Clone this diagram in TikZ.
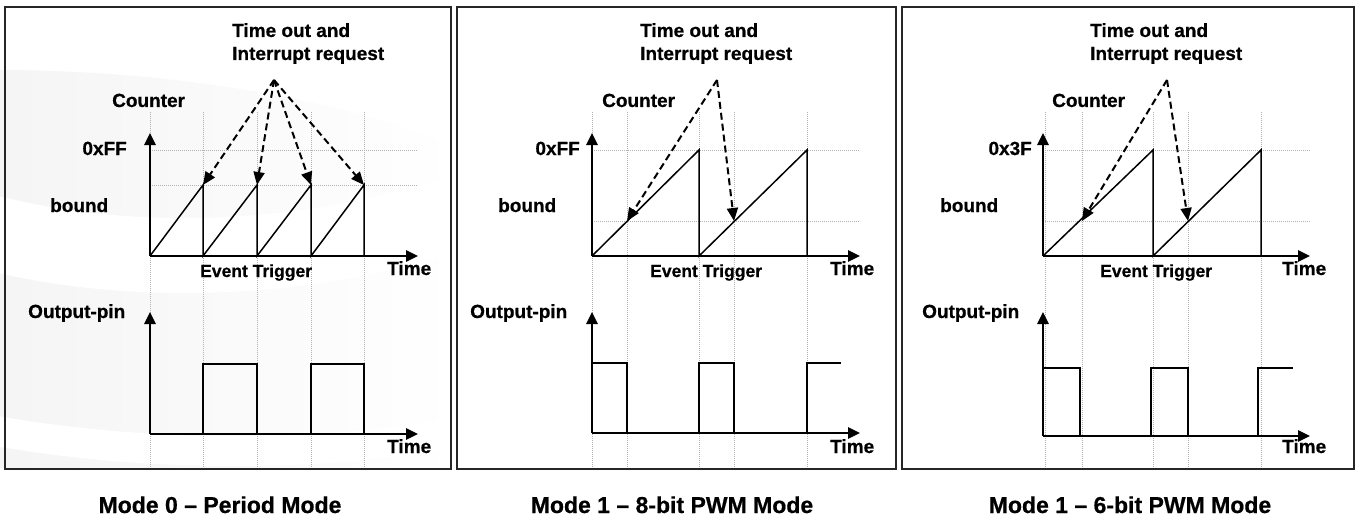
\documentclass[tikz,border=0pt]{standalone}
\usepackage{fontspec}
\setmainfont{Liberation Sans}[BoldFeatures={FakeBold=0.6}]
\usetikzlibrary{arrows.meta,positioning,calc}

\begin{document}
\begin{tikzpicture}[x=1pt,y=-1pt,>={Triangle[length=12pt,width=11pt]},
  every node/.style={font=\fontsize{19}{23}\selectfont\bfseries,inner sep=0pt,anchor=base west}]
\tikzset{frame/.style={draw=black!85,line width=2.4pt},
  axis/.style={->,line width=2.6pt},
  grid/.style={gray!60,line width=0.9pt,dash pattern=on 1pt off 1pt},
  wave/.style={line width=1.5pt},
  irq/.style={-{Triangle[length=13pt,width=11pt]},line width=2pt,dash pattern=on 7pt off 4pt},
  evt/.style={font=\fontsize{17.5}{21}\selectfont\bfseries},
  title/.style={font=\fontsize{23}{27}\selectfont\bfseries,anchor=base}}
\useasboundingbox (0,0) rectangle (1362,516);
% faint background swoosh
\begin{scope}
\clip (0,70) .. controls (200,70) and (380,110) .. (460,150) -- (460,468) -- (0,468) -- cycle;
\shade[left color=gray!8,right color=white] (0,70) rectangle (460,468);
\draw[white,line width=75pt] (-20,230) .. controls (150,275) and (350,260) .. (520,190);
\draw[white,line width=30pt] (-20,428) .. controls (150,460) and (350,460) .. (520,420);
\end{scope}

% ---------------- Mode 0
\draw[frame] (5,7) rectangle (451,469);
\foreach \x in {150,203,257,311,364} \draw[grid] (\x,112) -- (\x,467);
\foreach \y in {150,185} \draw[grid] (150,\y) -- (418,\y);
\coordinate (o1) at (150,256);
\coordinate (ytop1) at (150,133);
\coordinate (xend1) at (418,256);
\draw[axis] (o1) -- (ytop1);
\draw[axis] (o1) -- (xend1);
\draw[wave] (o1) -- (203,185) -- (203,256) -- (257,185) -- (257,256) -- (311,185) -- (311,256) -- (364,185) -- (364,256);
\node (cnt1) at (112,107) {Counter};
\node[anchor=base east] (ff1) at (127,155) {0xFF};
\node (bnd1) at (50,212) {bound};
\node (tm1) at (387,275) {Time};
\node[evt] (ev1) at (200,277) {Event Trigger};
\node[align=left] (to1) at (232,60) {Time out and\\Interrupt request};
\coordinate (src1) at (274,80);
\coordinate (pk1a) at (203,185);
\coordinate (pk1b) at (257,185);
\coordinate (pk1c) at (311,185);
\coordinate (pk1d) at (364,185);
\foreach \p in {pk1a,pk1b,pk1c,pk1d} \draw[irq] (src1) -- (\p);
\coordinate (q1) at (150,434);
\coordinate (qtop1) at (150,312);
\coordinate (qend1) at (418,434);
\draw[axis] (q1) -- (qtop1);
\draw[axis] (q1) -- (qend1);
\draw[wave] (203,434) -- (203,364) -- (257,364) -- (257,434);
\draw[wave] (311,434) -- (311,364) -- (364,364) -- (364,434);
\node (op1) at (28,318) {Output-pin};
\node (tmb1) at (387,453) {Time};
\node[title] (ttl1) at (220,513) {Mode 0 -- Period Mode};

% ---------------- Mode 1, 8 bit
\draw[frame] (457,7) rectangle (896,469);
\foreach \x in {592,627,699,734,807} \draw[grid] (\x,112) -- (\x,467);
\foreach \y in {150,221} \draw[grid] (592,\y) -- (860,\y);
\coordinate (o2) at (592,256);
\coordinate (ytop2) at (592,133);
\coordinate (xend2) at (860,256);
\draw[axis] (o2) -- (ytop2);
\draw[axis] (o2) -- (xend2);
\draw[wave] (o2) -- (699,150) -- (699,256) -- (807,150) -- (807,256);
\node (cnt2) at (602,107) {Counter};
\node[anchor=base east] (ff2) at (580,155) {0xFF};
\node (bnd2) at (498,212) {bound};
\node (tm2) at (830,275) {Time};
\node[evt] (ev2) at (650,277) {Event Trigger};
\node[align=left] (to2) at (640,60) {Time out and\\Interrupt request};
\coordinate (src2) at (717,80);
\coordinate (pk2a) at (627,221);
\coordinate (pk2b) at (734,221);
\foreach \p in {pk2a,pk2b} \draw[irq] (src2) -- (\p);
\coordinate (q2) at (592,433);
\coordinate (qtop2) at (592,312);
\coordinate (qend2) at (860,433);
\draw[axis] (q2) -- (qtop2);
\draw[axis] (q2) -- (qend2);
\draw[wave] (592,363) -- (627,363) -- (627,433);
\draw[wave] (699,433) -- (699,363) -- (734,363) -- (734,433);
\draw[wave] (807,433) -- (807,363) -- (841,363);
\node (op2) at (470,318) {Output-pin};
\node (tmb2) at (830,453) {Time};
\node[title] (ttl2) at (672,513) {Mode 1 -- 8-bit PWM Mode};

% ---------------- Mode 1, 6 bit
\draw[frame] (902,7) rectangle (1354,469);
\foreach \x in {1045,1082,1153,1188,1261} \draw[grid] (\x,112) -- (\x,467);
\foreach \y in {150,221} \draw[grid] (1043,\y) -- (1310,\y);
\coordinate (o3) at (1043,256);
\coordinate (ytop3) at (1043,133);
\coordinate (xend3) at (1310,256);
\draw[axis] (o3) -- (ytop3);
\draw[axis] (o3) -- (xend3);
\draw[wave] (o3) -- (1153,150) -- (1153,256) -- (1261,150) -- (1261,256);
\node (cnt3) at (1052,107) {Counter};
\node[anchor=base east] (ff3) at (1032,155) {0x3F};
\node (bnd3) at (940,212) {bound};
\node (tm3) at (1282,275) {Time};
\node[evt] (ev3) at (1100,277) {Event Trigger};
\node[align=left] (to3) at (1090,60) {Time out and\\Interrupt request};
\coordinate (src3) at (1167,80);
\coordinate (pk3a) at (1082,221);
\coordinate (pk3b) at (1188,221);
\foreach \p in {pk3a,pk3b} \draw[irq] (src3) -- (\p);
\coordinate (q3) at (1043,436);
\coordinate (qtop3) at (1043,312);
\coordinate (qend3) at (1310,436);
\draw[axis] (q3) -- (qtop3);
\draw[axis] (q3) -- (qend3);
\draw[wave] (1043,368) -- (1080,368) -- (1080,436);
\draw[wave] (1151,436) -- (1151,368) -- (1188,368) -- (1188,436);
\draw[wave] (1258,436) -- (1258,368) -- (1293,368);
\node (op3) at (922,318) {Output-pin};
\node (tmb3) at (1282,453) {Time};
\node[title] (ttl3) at (1130,513) {Mode 1 -- 6-bit PWM Mode};
\end{tikzpicture}
\end{document}
